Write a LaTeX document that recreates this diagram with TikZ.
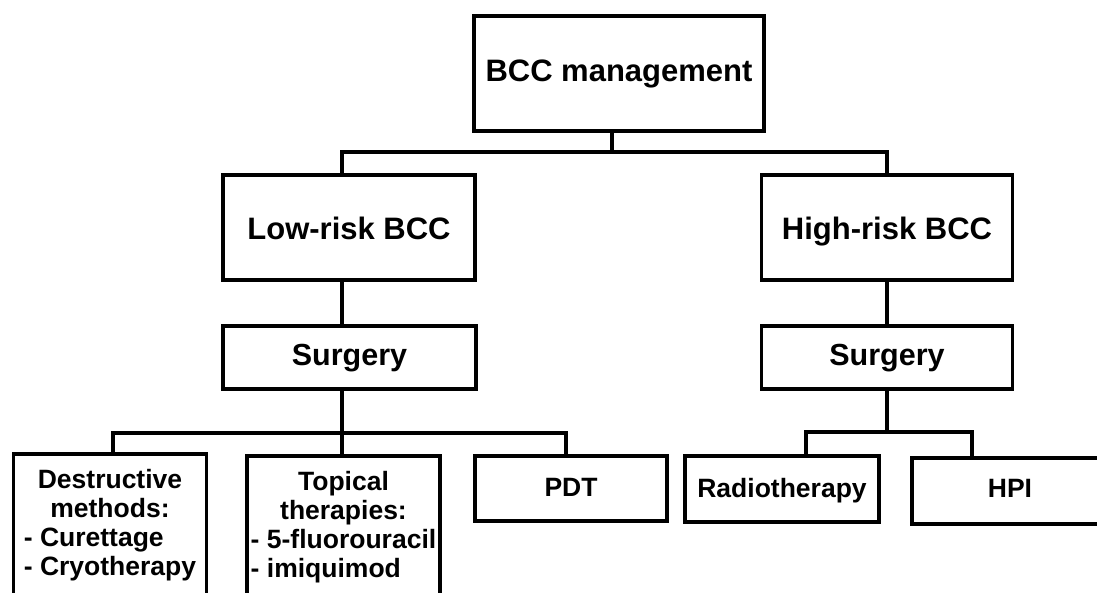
\documentclass[tikz,border=0pt]{standalone}
\usepackage{fontspec}
\setmainfont{Liberation Sans}
\newcommand{\boxhead}[1]{\multicolumn{1}{@{}c@{}}{#1}}
\tikzstyle{box}=[rectangle, draw, line width=3.6pt, outer sep=0pt, inner sep=0pt, fill=white]
\tikzstyle{big}=[box, font=\fontsize{31}{36}\selectfont\bfseries, text height=25pt, text depth=0pt]
\tikzstyle{mid}=[box, font=\fontsize{30.5}{34}\selectfont\bfseries, minimum height=63pt, text height=23pt, text depth=8pt]
\tikzstyle{leaf}=[box, font=\fontsize{26.5}{29}\selectfont\bfseries, minimum width=193pt]
\tikzstyle{flat}=[leaf, text height=22pt, text depth=6pt]
\tikzstyle{tall}=[leaf, anchor=north, inner ysep=13.7pt]
\tikzstyle{link}=[line width=3.6pt]

\begin{document}
\begin{tikzpicture}[x=1pt, y=-1pt]
				\useasboundingbox (0,0) rectangle (1097,593);
				\clip (0,0) rectangle (1097,593);
				
				%The root
				\draw (619,73.5) node[big, minimum width=290pt, minimum height=115pt, text depth=8pt] (root) {BCC management};
				
				%The two risk groups
				\draw (349,227.5) node[big, minimum width=252pt, minimum height=105pt] (low) {Low-risk BCC};
				\draw (887,227.5) node[big, minimum width=251pt, minimum height=105pt] (high) {High-risk BCC};
				
				%The surgery boxes
				\draw (349.5,357.5) node[mid, minimum width=253pt] (surgL) {Surgery};
				\draw (887,357.5) node[mid, minimum width=251pt] (surgH) {Surgery};
				
				%The low-risk options
				\draw (110,454) node[tall] (destr) {\begin{tabular}{@{}l@{}}\boxhead{Destructive}\\\boxhead{methods:}\\- Curettage\\- Cryotherapy\end{tabular}};
				\draw (343.5,456) node[tall] (topic) {\begin{tabular}{@{}l@{}}\boxhead{Topical}\\\boxhead{therapies:}\\- 5-fluorouracil\\- imiquimod\end{tabular}};
				\draw (571,488.5) node[flat, minimum width=192pt, minimum height=65pt] (pdt) {PDT};
				
				%The high-risk options
				\draw (782,489) node[flat, minimum width=194pt, minimum height=66pt] (radio) {Radiotherapy};
				\draw (1010,491) node[flat, minimum width=196pt, minimum height=66pt, text depth=10pt] (hpi) {HPI};
				
				%The junctions
				\coordinate (j1) at (612,152);
				\coordinate (j2) at (342,433);
				\coordinate (j3) at (887,432);
				
				%The connectors
				\draw[link] ([xshift=-7pt]root.south) -- (j1);
				\draw[link] ([xshift=-7pt]low.north) |- (j1) -| (high.north);
				\draw[link] ([xshift=-7pt]low.south) -- ([xshift=-7.5pt]surgL.north);
				\draw[link] (high.south) -- (surgH.north);
				\draw[link] ([xshift=-7.5pt]surgL.south) -- ([xshift=-1.5pt]topic.north);
				\draw[link] ([xshift=3pt]destr.north) |- (j2) -| ([xshift=-5pt]pdt.north);
				\draw[link] (surgH.south) -- (j3);
				\draw[link] ([xshift=24pt]radio.north) |- (j3) -| ([xshift=-38pt]hpi.north);
			\end{tikzpicture}
\end{document}
